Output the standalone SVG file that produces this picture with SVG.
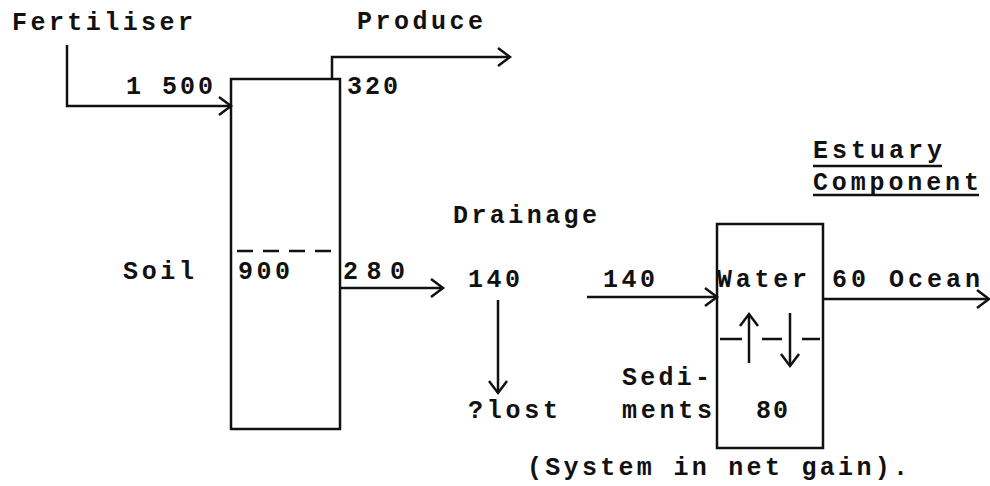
<svg xmlns="http://www.w3.org/2000/svg" width="990" height="486" viewBox="0 0 990 486">
<style>
text{font-family:"Liberation Mono","Courier New",monospace;font-size:25px;font-weight:bold;fill:#111}
.ln{fill:none;stroke:#111;stroke-width:2.5}
.box{fill:none;stroke:#111;stroke-width:2.5}
.dash{stroke:#111;stroke-width:2.5}
</style>
<defs>
<marker id="ah" markerUnits="userSpaceOnUse" markerWidth="30" markerHeight="30" refX="0" refY="0" viewBox="-15 -15 30 30" orient="auto" overflow="visible">
<path d="M-12,-9 L0,0 L-12,9" fill="none" stroke="#111" stroke-width="2.5"/>
</marker>
</defs>
<rect width="990" height="486" fill="#fff"/>
<g id="soil">
<rect class="box" x="231" y="79" width="109" height="350"/>
<line class="dash" x1="237" y1="251" x2="332" y2="251" stroke-dasharray="16 10"/>
<text x="123" y="279" textLength="71" lengthAdjust="spacing">Soil</text>
<text x="238" y="279" textLength="52" lengthAdjust="spacing">900</text>
</g>
<g id="fertiliser">
<text x="12" y="30" textLength="181" lengthAdjust="spacing">Fertiliser</text>
</g>
<g id="produce">
<text x="357" y="29" textLength="126" lengthAdjust="spacing">Produce</text>
</g>
<g id="drainage">
<text x="453" y="223" textLength="144" lengthAdjust="spacing">Drainage</text>
<text x="468" y="287" textLength="52" lengthAdjust="spacing">140</text>
</g>
<g id="lost">
<text x="468" y="418" textLength="90" lengthAdjust="spacing">?lost</text>
</g>
<g id="estuary">
<text x="813" y="158" textLength="129" lengthAdjust="spacing">Estuary</text>
<text x="813" y="190" textLength="166" lengthAdjust="spacing">Component</text>
<line class="dash" x1="813" y1="166" x2="942" y2="166" stroke-width="2"/>
<line class="dash" x1="813" y1="195" x2="979" y2="195" stroke-width="2"/>
<rect class="box" x="717" y="224" width="106" height="224"/>
<line class="dash" x1="720" y1="339" x2="742" y2="339"/>
<line class="dash" x1="762" y1="339" x2="782" y2="339"/>
<line class="dash" x1="802" y1="339" x2="820" y2="339"/>
<text x="717" y="287" textLength="90" lengthAdjust="spacing">Water</text>
<text x="756" y="418" textLength="32" lengthAdjust="spacing">80</text>
<text x="622" y="385" textLength="88" lengthAdjust="spacing">Sedi-</text>
<text x="622" y="418" textLength="90" lengthAdjust="spacing">ments</text>
</g>
<g id="ocean">
<text x="832" y="287" textLength="148" lengthAdjust="spacing">60 Ocean</text>
</g>
<g id="note">
<text x="527" y="475" textLength="381" lengthAdjust="spacing">(System in net gain).</text>
</g>
<g id="connectors">
<polyline class="ln" points="67,45 67,106 231,106" marker-end="url(#ah)"/>
<text x="126" y="94" textLength="87" lengthAdjust="spacing">1 500</text>
<polyline class="ln" points="332,79 332,57 510,57" marker-end="url(#ah)"/>
<text x="347" y="94" textLength="51" lengthAdjust="spacing">320</text>
<line class="ln" x1="340" y1="288" x2="443" y2="288" marker-end="url(#ah)"/>
<text x="343" y="279" textLength="62" lengthAdjust="spacing">280</text>
<line class="ln" x1="498" y1="300" x2="498" y2="393" marker-end="url(#ah)"/>
<line class="ln" x1="587" y1="297" x2="717" y2="297" marker-end="url(#ah)"/>
<text x="603" y="287" textLength="52" lengthAdjust="spacing">140</text>
<line class="ln" x1="823" y1="299" x2="989" y2="299" marker-end="url(#ah)"/>
<line class="ln" x1="749" y1="363" x2="749" y2="314" marker-end="url(#ah)"/>
<line class="ln" x1="790" y1="313" x2="790" y2="366" marker-end="url(#ah)"/>
</g>
</svg>
